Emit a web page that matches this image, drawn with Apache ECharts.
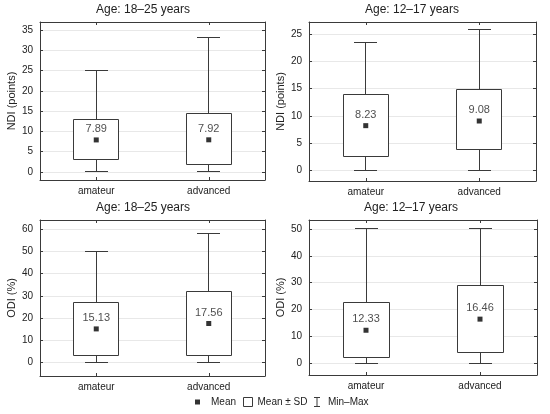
<!DOCTYPE html>
<html>
<head>
<meta charset="utf-8">
<script src="https://cdn.jsdelivr.net/npm/echarts@6/dist/echarts.min.js"></script>
<style>
html,body{margin:0;padding:0;background:#fff;}
#chart{width:550px;height:414px;}
</style>
</head>
<body>
<div id="chart"></div>
<script>
// ---------- data ----------
const categories = ['amateur', 'advanced'];

const ndiAdultMean   = [7.89, 7.92];
const ndiAdultSdLow  = [3.0, 1.9];
const ndiAdultSdHigh = [13.0, 14.3];
const ndiAdultMin    = [0, 0];
const ndiAdultMax    = [25.0, 33.1];

const ndiYouthMean   = [8.23, 9.08];
const ndiYouthSdLow  = [2.6, 3.9];
const ndiYouthSdHigh = [13.9, 14.8];
const ndiYouthMin    = [0, 0];
const ndiYouthMax    = [23.5, 25.9];

const odiAdultMean   = [15.13, 17.56];
const odiAdultSdLow  = [3.4, 3.4];
const odiAdultSdHigh = [26.8, 32.1];
const odiAdultMin    = [0, 0];
const odiAdultMax    = [50.0, 58.1];

const odiYouthMean   = [12.33, 16.46];
const odiYouthSdLow  = [2.2, 4.1];
const odiYouthSdHigh = [22.7, 28.9];
const odiYouthMin    = [0, 0];
const odiYouthMax    = [50.0, 50.0];

const panelTitles = ['Age: 18\u201325 years', 'Age: 12\u201317 years', 'Age: 18\u201325 years', 'Age: 12\u201317 years'];
const yAxisNames  = ['NDI (points)', 'NDI (points)', 'ODI (%)', 'ODI (%)'];

// ---------- layout ----------
const SANS = '"Liberation Sans", Arial, sans-serif';
const LINE = '#3a3a3a';
const TEXT = '#222';

const panels = [
  {mean: ndiAdultMean, lo: ndiAdultSdLow, hi: ndiAdultSdHigh, mn: ndiAdultMin, mx: ndiAdultMax,
   grid: {left: 40, top: 22, width: 225, height: 158}, yMin: -2, yMax: 37, step: 5, split: 8, titleX: 143, titleY: 4},
  {mean: ndiYouthMean, lo: ndiYouthSdLow, hi: ndiYouthSdHigh, mn: ndiYouthMin, mx: ndiYouthMax,
   grid: {left: 309, top: 22, width: 227, height: 159}, yMin: -1.9, yMax: 27.2, step: 5, split: 6, titleX: 412, titleY: 4},
  {mean: odiAdultMean, lo: odiAdultSdLow, hi: odiAdultSdHigh, mn: odiAdultMin, mx: odiAdultMax,
   grid: {left: 40, top: 220, width: 225, height: 156}, yMin: -6, yMax: 64, step: 10, split: 7, titleX: 143, titleY: 202},
  {mean: odiYouthMean, lo: odiYouthSdLow, hi: odiYouthSdHigh, mn: odiYouthMin, mx: odiYouthMax,
   grid: {left: 309, top: 220, width: 228, height: 155}, yMin: -4.3, yMax: 53.3, step: 10, split: 6, titleX: 411, titleY: 202}
];

function crisp(v) { return Math.round(v - 0.5) + 0.5; }

function renderWhisker(params, api) {
  const c = api.value(0);
  const pLo = api.coord([c, api.value(1)]);
  const pHi = api.coord([c, api.value(2)]);
  const band = api.size([1, 0])[0];
  const half = band * 0.1;
  const x = crisp(pLo[0]);
  const y0 = crisp(pLo[1]), y1 = crisp(pHi[1]);
  const st = {stroke: LINE, lineWidth: 1};
  return {type: 'group', children: [
    {type: 'line', shape: {x1: x, y1: y0, x2: x, y2: y1}, style: st},
    {type: 'line', shape: {x1: Math.round(x - half), y1: y0, x2: Math.round(x + half), y2: y0}, style: st},
    {type: 'line', shape: {x1: Math.round(x - half), y1: y1, x2: Math.round(x + half), y2: y1}, style: st}
  ]};
}

function renderBox(params, api) {
  const c = api.value(0);
  const pLo = api.coord([c, api.value(1)]);
  const pHi = api.coord([c, api.value(2)]);
  const band = api.size([1, 0])[0];
  const w = Math.round(band * 0.4);
  const x = crisp(pLo[0] - w / 2);
  const yTop = crisp(pHi[1]);
  const yBot = crisp(pLo[1]);
  return {type: 'rect', shape: {x: x, y: yTop, width: w, height: yBot - yTop},
          style: {fill: '#fff', stroke: LINE, lineWidth: 1}};
}

const grids = [], xAxes = [], yAxes = [], series = [], titles = [];

panels.forEach((p, i) => {
  grids.push(Object.assign({containLabel: false}, p.grid));
  titles.push({text: panelTitles[i], left: p.titleX, top: p.titleY, textAlign: 'center', padding: 0,
    textStyle: {fontFamily: SANS, fontSize: 12, fontWeight: 'normal', color: TEXT}});

  const xBase = {type: 'category', data: categories, gridIndex: i, boundaryGap: true,
    axisLine: {show: true, onZero: false, lineStyle: {color: LINE, width: 1}},
    axisTick: {show: true, inside: true, length: 3, alignWithLabel: true, lineStyle: {color: LINE}},
    splitLine: {show: false}};
  xAxes.push(Object.assign({}, xBase, {position: 'bottom',
    axisLabel: {show: true, margin: 6, fontFamily: SANS, fontSize: 10, color: TEXT}}));
  xAxes.push(Object.assign({}, xBase, {position: 'top', axisLabel: {show: false}}));

  const step = p.step;
  const yBase = {type: 'value', gridIndex: i, min: p.yMin, max: p.yMax, splitNumber: p.split,
    axisLine: {show: true, onZero: false, lineStyle: {color: LINE, width: 1}},
    axisTick: {show: true, inside: true, length: 3, lineStyle: {color: LINE}}};
  yAxes.push(Object.assign({}, yBase, {position: 'left',
    name: yAxisNames[i], nameLocation: 'middle', nameGap: 23,
    nameTextStyle: {fontFamily: SANS, fontSize: 11, color: TEXT},
    splitLine: {show: true, lineStyle: {color: '#e8e8e8', width: 1}},
    axisLabel: {show: true, margin: 7, fontFamily: SANS, fontSize: 10, color: TEXT,
      formatter: v => (Math.abs(v / step - Math.round(v / step)) < 1e-6 ? String(Math.round(v)) : '')}}));
  yAxes.push(Object.assign({}, yBase, {position: 'right', splitLine: {show: false}, axisLabel: {show: false}}));

  const xi = i * 2, yi = i * 2;
  series.push({
    name: 'Min\u2013Max', type: 'custom', xAxisIndex: xi, yAxisIndex: yi, z: 2,
    itemStyle: {color: LINE},
    renderItem: renderWhisker,
    encode: {x: 0, y: [1, 2]},
    data: categories.map((c, k) => [k, p.mn[k], p.mx[k]])
  });
  series.push({
    name: 'Mean \u00b1 SD', type: 'custom', xAxisIndex: xi, yAxisIndex: yi, z: 3,
    itemStyle: {color: '#fff', borderColor: LINE},
    renderItem: renderBox,
    encode: {x: 0, y: [1, 2]},
    data: categories.map((c, k) => [k, p.lo[k], p.hi[k]])
  });
  series.push({
    name: 'Mean', type: 'scatter', xAxisIndex: xi, yAxisIndex: yi, z: 4,
    symbol: 'rect', symbolSize: 5, itemStyle: {color: '#000'},
    label: {show: true, position: 'top', distance: 3, fontFamily: SANS, fontSize: 11, color: TEXT,
      formatter: prm => prm.value[1].toFixed(2)},
    data: categories.map((c, k) => [k, p.mean[k]])
  });
});

const legendText = {fontFamily: SANS, fontSize: 10, color: TEXT};
const option = {
  animation: false,
  backgroundColor: '#fff',
  title: titles,
  grid: grids,
  xAxis: xAxes,
  yAxis: yAxes,
  legend: [
    {left: 195, top: 397, padding: 0, itemWidth: 5, itemHeight: 5, selectedMode: false,
     textStyle: Object.assign({padding: [0, 0, 0, 6]}, legendText),
     data: [{name: 'Mean', icon: 'rect', itemStyle: {color: '#000'}}]},
    {left: 243, top: 397, padding: 0, itemWidth: 9, itemHeight: 9, selectedMode: false,
     textStyle: legendText,
     data: [{name: 'Mean \u00b1 SD', icon: 'rect', itemStyle: {color: '#fff', borderColor: LINE, borderWidth: 1}}]},
    {left: 314, top: 397, padding: 0, itemWidth: 6, itemHeight: 10, selectedMode: false,
     textStyle: Object.assign({padding: [0, 0, 0, 3]}, legendText),
     data: [{name: 'Min\u2013Max', icon: 'path://M0,0H6V1H3.5V9H6V10H0V9H2.5V1H0Z', itemStyle: {color: LINE}}]}
  ],
  series: series
};

const chart = echarts.init(document.getElementById('chart'), null, {renderer: 'canvas'});
chart.setOption(option);
</script>
</body>
</html>
